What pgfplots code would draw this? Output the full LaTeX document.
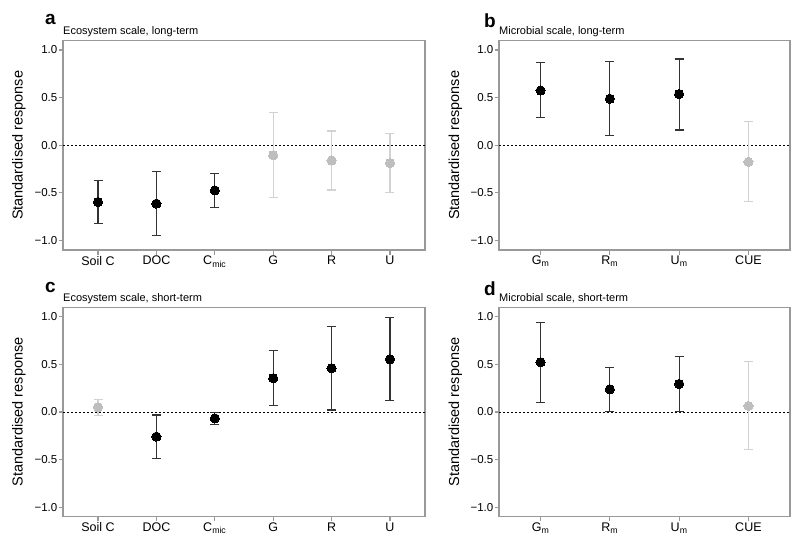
\documentclass[border=0pt]{standalone}
\usepackage{fontspec}
\setmainfont{Liberation Sans}
\usepackage{pgfplots}
\pgfplotsset{compat=1.18}
\usepackage{pgfplotstable}

\definecolor{framegrey}{HTML}{999999}
\definecolor{bardark}{HTML}{333333}
\definecolor{barlight}{HTML}{D2D2D2}
\definecolor{ptlight}{HTML}{BEBEBE}

% x  y  lo  hi
\pgfplotstableread{
x y lo hi
1 -0.596 -0.826 -0.366
2 -0.613 -0.951 -0.279
3 -0.474 -0.655 -0.293
}\aDark
\pgfplotstableread{
x y lo hi
4 -0.105 -0.544 0.345
5 -0.160 -0.470 0.150
6 -0.188 -0.498 0.122
}\aLight
\pgfplotstableread{
x y lo hi
1 0.575 0.289 0.868
2 0.488 0.105 0.878
3 0.537 0.160 0.906
}\bDark
\pgfplotstableread{
x y lo hi
4 -0.174 -0.592 0.247
}\bLight
\pgfplotstableread{
x y lo hi
2 -0.259 -0.487 -0.032
3 -0.067 -0.130 -0.004
4 0.354 0.070 0.645
5 0.459 0.021 0.897
6 0.553 0.116 0.991
}\cDark
\pgfplotstableread{
x y lo hi
1 0.049 -0.039 0.133
}\cLight
\pgfplotstableread{
x y lo hi
1 0.522 0.098 0.942
2 0.238 0.004 0.466
3 0.294 0.004 0.581
}\dDark
\pgfplotstableread{
x y lo hi
4 0.063 -0.399 0.529
}\dLight

\pgfplotsset{
  panel/.style={
    scale only axis,
    height=209.5pt,
    ymin=-1.1, ymax=1.1,
    ytick={-1,-0.5,0,0.5,1},
    yticklabels={−1.0,−0.5,0.0,0.5,1.0},
    axis line style={framegrey, line width=1.1pt},
    tick style={framegrey, line width=1.1pt},
    major tick length=4.5pt,
    tick align=outside,
    xtick pos=bottom, ytick pos=left,
    yticklabel style={font=\fontsize{11.5}{12}\selectfont, text=black, inner sep=1pt},
    xticklabel style={font=\fontsize{12.5}{13}\selectfont, text=black, inner sep=1.5pt},
    clip=false,
  },
  ebars/.style={only marks, mark=none,
    error bars/.cd, y dir=both, y explicit,
    error bar style={draw=#1, line width=1.1pt},
    error mark options={rotate=90, draw=#1, mark size=4.5pt, line width=1.1pt}},
  pts/.style={only marks, mark=*, mark size=4.6pt, mark options={draw=#1, fill=#1, line width=0pt}},
}

\newcommand{\errplot}[2]{%
  \addplot[ebars=#2] table[x=x, y=y, y error plus expr=\thisrow{hi}-\thisrow{y}, y error minus expr=\thisrow{y}-\thisrow{lo}] {#1};
}
\newcommand{\ptplot}[2]{%
  \addplot[pts=#2] table[x=x, y=y] {#1};
}

\begin{document}
\begin{tikzpicture}
\path[use as bounding box] (0pt,0pt) rectangle (800pt,547pt);

% ---------- panel a ----------
\begin{axis}[panel, at={(63pt,297pt)}, anchor=south west, width=362pt,
  xmin=0.4, xmax=6.6, xtick={1,2,3,4,5,6},
  xticklabels={Soil C, DOC, C\textsubscript{mic}, G, R, U}]
  \addplot[black, line width=0.9pt, dash pattern=on 2pt off 2pt] coordinates {(0.4,0) (6.6,0)};
  \errplot{\aLight}{barlight}
  \errplot{\aDark}{bardark}
  \ptplot{\aLight}{ptlight}
  \ptplot{\aDark}{black}
\end{axis}

% ---------- panel b ----------
\begin{axis}[panel, at={(499pt,297pt)}, anchor=south west, width=291pt,
  xmin=0.4, xmax=4.6, xtick={1,2,3,4},
  xticklabels={G\textsubscript{m}, R\textsubscript{m}, U\textsubscript{m}, CUE}]
  \addplot[black, line width=0.9pt, dash pattern=on 2pt off 2pt] coordinates {(0.4,0) (4.6,0)};
  \errplot{\bLight}{barlight}
  \errplot{\bDark}{bardark}
  \ptplot{\bLight}{ptlight}
  \ptplot{\bDark}{black}
\end{axis}

% ---------- panel c ----------
\begin{axis}[panel, at={(63pt,30.3pt)}, anchor=south west, width=362pt,
  xmin=0.4, xmax=6.6, xtick={1,2,3,4,5,6},
  xticklabels={Soil C, DOC, C\textsubscript{mic}, G, R, U}]
  \addplot[black, line width=0.9pt, dash pattern=on 2pt off 2pt] coordinates {(0.4,0) (6.6,0)};
  \errplot{\cLight}{barlight}
  \errplot{\cDark}{bardark}
  \ptplot{\cLight}{ptlight}
  \ptplot{\cDark}{black}
\end{axis}

% ---------- panel d ----------
\begin{axis}[panel, at={(499pt,30.3pt)}, anchor=south west, width=291pt,
  xmin=0.4, xmax=4.6, xtick={1,2,3,4},
  xticklabels={G\textsubscript{m}, R\textsubscript{m}, U\textsubscript{m}, CUE}]
  \addplot[black, line width=0.9pt, dash pattern=on 2pt off 2pt] coordinates {(0.4,0) (4.6,0)};
  \errplot{\dLight}{barlight}
  \errplot{\dDark}{bardark}
  \ptplot{\dLight}{ptlight}
  \ptplot{\dDark}{black}
\end{axis}

% ---------- labels ----------
\tikzset{ylab/.style={rotate=90, anchor=base, inner sep=0pt, font=\fontsize{14.5}{15}\selectfont},
  plet/.style={anchor=north west, inner sep=0pt, font=\fontsize{19}{19}\selectfont\bfseries},
  sub/.style={anchor=base west, inner sep=0pt, font=\fontsize{11}{12}\selectfont}}
\node[ylab] at (22.5pt,401.6pt) {Standardised response};
\node[ylab] at (459pt,401.6pt) {Standardised response};
\node[ylab] at (22.5pt,135pt) {Standardised response};
\node[ylab] at (459pt,135pt) {Standardised response};

\node[plet] at (45pt,533pt) {a};
\node[plet] at (484pt,533pt) {b};
\node[plet] at (45pt,265pt) {c};
\node[plet] at (484pt,265pt) {d};

\node[sub] at (63pt,512.5pt) {Ecosystem scale, long-term};
\node[sub] at (499pt,512.5pt) {Microbial scale, long-term};
\node[sub] at (63pt,246pt) {Ecosystem scale, short-term};
\node[sub] at (499pt,246pt) {Microbial scale, short-term};
\end{tikzpicture}
\end{document}
